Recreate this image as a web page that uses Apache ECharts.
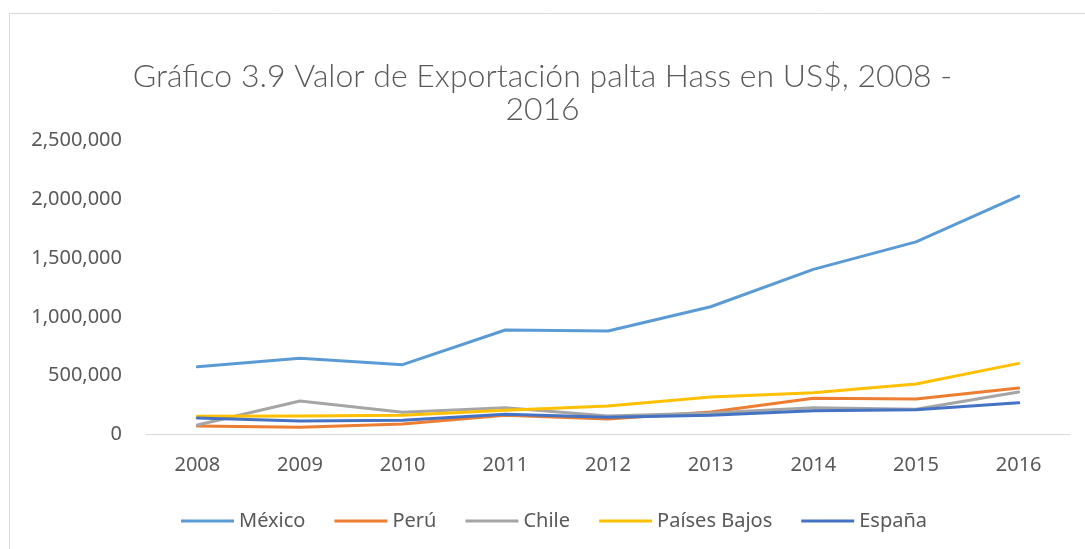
<!DOCTYPE html>
<html>
<head>
<meta charset="utf-8">
<script src="https://cdn.jsdelivr.net/npm/echarts@6/dist/echarts.min.js"></script>
<style>
  html, body { margin: 0; padding: 0; background: #fff; }
  #chart { width: 1085px; height: 549px; }
</style>
</head>
<body>
<div id="chart"></div>
<script>
const years = ["2008", "2009", "2010", "2011", "2012", "2013", "2014", "2015", "2016"];
const mexico = [576000, 648000, 594000, 889000, 880000, 1087000, 1405000, 1639000, 2028000];
const peru = [72000, 61000, 89000, 163000, 132000, 191000, 308000, 302000, 395000];
const chile = [81000, 285000, 189000, 228000, 157000, 182000, 228000, 214000, 361000];
const paisesBajos = [155000, 157000, 163000, 206000, 242000, 319000, 355000, 429000, 605000];
const espana = [140000, 115000, 121000, 172000, 146000, 163000, 202000, 211000, 270000];

const textColor = "#595959";
const titleFont = "Lato, 'Noto Sans', sans-serif";
const font = "'Noto Sans', sans-serif";

const chart = echarts.init(document.getElementById("chart"));

const mkLine = (name, data, color) => ({
  name,
  type: "line",
  data,
  symbol: "none",
  lineStyle: { width: 3, color, cap: "round", join: "round" },
  itemStyle: { color },
  animation: false
});

const option = {
  backgroundColor: "#fff",
  textStyle: { fontFamily: font },
  graphic: [
    {
      type: "rect",
      shape: { x: 9.5, y: 13.5, width: 1090, height: 560 },
      style: { fill: "none", stroke: "#d9d9d9", lineWidth: 1 },
      silent: true
    }
  ],
  title: {
    text: "Gráfico 3.9 Valor de Exportación palta Hass en US$, 2008 -\n2016",
    left: "center",
    top: 55,
    textStyle: {
      fontFamily: titleFont,
      fontSize: 32,
      fontWeight: 300,
      color: textColor,
      lineHeight: 33
    }
  },
  legend: {
    left: 176,
    top: 506,
    icon: "rect",
    itemWidth: 53,
    itemHeight: 3,
    itemGap: 29,
    textStyle: { fontFamily: font, fontSize: 20, color: textColor },
    data: ["México", "Perú", "Chile", "Países Bajos", "España"]
  },
  grid: { left: 146, right: 15, top: 140.7, bottom: 114.5 },
  xAxis: {
    type: "category",
    data: years,
    boundaryGap: true,
    axisLine: { lineStyle: { color: "#d9d9d9", width: 1 } },
    axisTick: { show: false },
    axisLabel: { color: textColor, fontSize: 20, margin: 21, fontFamily: font }
  },
  yAxis: {
    type: "value",
    min: 0,
    max: 2500000,
    interval: 500000,
    axisLine: { show: false },
    axisTick: { show: false },
    splitLine: { show: false },
    axisLabel: {
      color: textColor,
      fontSize: 20,
      margin: 24,
      fontFamily: font,
      formatter: (v) => v.toLocaleString("en-US")
    }
  },
  series: [
    mkLine("México", mexico, "#5B9BD5"),
    mkLine("Perú", peru, "#ED7D31"),
    mkLine("Chile", chile, "#A5A5A5"),
    mkLine("Países Bajos", paisesBajos, "#FFC000"),
    mkLine("España", espana, "#4472C4")
  ]
};

chart.setOption(option);
</script>
</body>
</html>
